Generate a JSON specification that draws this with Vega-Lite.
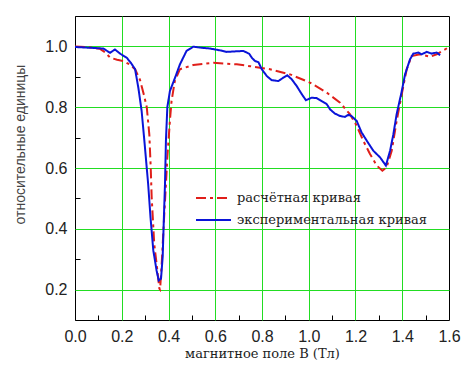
{
  "$schema": "https://vega.github.io/schema/vega-lite/v6.json",
  "width": 374,
  "height": 304,
  "autosize": "none",
  "padding": {"left": 75, "top": 16, "right": 23, "bottom": 56},
  "background": "white",
  "config": {
    "view": {"stroke": "black", "strokeWidth": 1},
    "axis": {"domain": false}
  },
  "data": {
    "values": [
      {"s": "расчётная кривая", "x": 0.0, "y": 1.0},
      {"s": "расчётная кривая", "x": 0.05, "y": 0.998},
      {"s": "расчётная кривая", "x": 0.107, "y": 0.992},
      {"s": "расчётная кривая", "x": 0.13, "y": 0.98},
      {"s": "расчётная кривая", "x": 0.15, "y": 0.963},
      {"s": "расчётная кривая", "x": 0.18, "y": 0.956},
      {"s": "расчётная кривая", "x": 0.207, "y": 0.952},
      {"s": "расчётная кривая", "x": 0.235, "y": 0.94},
      {"s": "расчётная кривая", "x": 0.257, "y": 0.925},
      {"s": "расчётная кривая", "x": 0.278, "y": 0.89},
      {"s": "расчётная кривая", "x": 0.295, "y": 0.84},
      {"s": "расчётная кривая", "x": 0.307, "y": 0.8},
      {"s": "расчётная кривая", "x": 0.318, "y": 0.71},
      {"s": "расчётная кривая", "x": 0.324, "y": 0.6},
      {"s": "расчётная кривая", "x": 0.328, "y": 0.504},
      {"s": "расчётная кривая", "x": 0.339, "y": 0.35},
      {"s": "расчётная кривая", "x": 0.349, "y": 0.285},
      {"s": "расчётная кривая", "x": 0.361, "y": 0.203},
      {"s": "расчётная кривая", "x": 0.364, "y": 0.2},
      {"s": "расчётная кривая", "x": 0.371, "y": 0.285},
      {"s": "расчётная кривая", "x": 0.38, "y": 0.42},
      {"s": "расчётная кривая", "x": 0.389, "y": 0.547},
      {"s": "расчётная кривая", "x": 0.395, "y": 0.635},
      {"s": "расчётная кривая", "x": 0.406, "y": 0.755},
      {"s": "расчётная кривая", "x": 0.413, "y": 0.82},
      {"s": "расчётная кривая", "x": 0.427, "y": 0.886},
      {"s": "расчётная кривая", "x": 0.449, "y": 0.925},
      {"s": "расчётная кривая", "x": 0.506, "y": 0.939},
      {"s": "расчётная кривая", "x": 0.592, "y": 0.946},
      {"s": "расчётная кривая", "x": 0.692, "y": 0.941},
      {"s": "расчётная кривая", "x": 0.749, "y": 0.935},
      {"s": "расчётная кривая", "x": 0.791, "y": 0.93},
      {"s": "расчётная кривая", "x": 0.834, "y": 0.925},
      {"s": "расчётная кривая", "x": 0.92, "y": 0.908},
      {"s": "расчётная кривая", "x": 1.005, "y": 0.881},
      {"s": "расчётная кривая", "x": 1.077, "y": 0.848},
      {"s": "расчётная кривая", "x": 1.134, "y": 0.815},
      {"s": "расчётная кривая", "x": 1.176, "y": 0.777},
      {"s": "расчётная кривая", "x": 1.205, "y": 0.739},
      {"s": "расчётная кривая", "x": 1.233, "y": 0.69},
      {"s": "расчётная кривая", "x": 1.262, "y": 0.646},
      {"s": "расчётная кривая", "x": 1.291, "y": 0.608},
      {"s": "расчётная кривая", "x": 1.315, "y": 0.591},
      {"s": "расчётная кривая", "x": 1.333, "y": 0.602},
      {"s": "расчётная кривая", "x": 1.355, "y": 0.657},
      {"s": "расчётная кривая", "x": 1.376, "y": 0.755},
      {"s": "расчётная кривая", "x": 1.398, "y": 0.843},
      {"s": "расчётная кривая", "x": 1.419, "y": 0.925},
      {"s": "расчётная кривая", "x": 1.44, "y": 0.968},
      {"s": "расчётная кривая", "x": 1.476, "y": 0.974},
      {"s": "расчётная кривая", "x": 1.519, "y": 0.966},
      {"s": "расчётная кривая", "x": 1.547, "y": 0.974},
      {"s": "расчётная кривая", "x": 1.576, "y": 0.987},
      {"s": "расчётная кривая", "x": 1.6, "y": 0.998},
      {"s": "экспериментальная кривая", "x": 0.0, "y": 0.998},
      {"s": "экспериментальная кривая", "x": 0.05, "y": 0.996},
      {"s": "экспериментальная кривая", "x": 0.078, "y": 0.995},
      {"s": "экспериментальная кривая", "x": 0.121, "y": 0.993},
      {"s": "экспериментальная кривая", "x": 0.15, "y": 0.979},
      {"s": "экспериментальная кривая", "x": 0.171, "y": 0.99},
      {"s": "экспериментальная кривая", "x": 0.193, "y": 0.976},
      {"s": "экспериментальная кривая", "x": 0.221, "y": 0.963},
      {"s": "экспериментальная кривая", "x": 0.24, "y": 0.945},
      {"s": "экспериментальная кривая", "x": 0.257, "y": 0.925},
      {"s": "экспериментальная кривая", "x": 0.271, "y": 0.864},
      {"s": "экспериментальная кривая", "x": 0.285, "y": 0.788},
      {"s": "экспериментальная кривая", "x": 0.298, "y": 0.679},
      {"s": "экспериментальная кривая", "x": 0.313, "y": 0.547},
      {"s": "экспериментальная кривая", "x": 0.323, "y": 0.438},
      {"s": "экспериментальная кривая", "x": 0.335, "y": 0.329},
      {"s": "экспериментальная кривая", "x": 0.349, "y": 0.263},
      {"s": "экспериментальная кривая", "x": 0.358, "y": 0.23},
      {"s": "экспериментальная кривая", "x": 0.368, "y": 0.236},
      {"s": "экспериментальная кривая", "x": 0.375, "y": 0.307},
      {"s": "экспериментальная кривая", "x": 0.38, "y": 0.43},
      {"s": "экспериментальная кривая", "x": 0.385, "y": 0.547},
      {"s": "экспериментальная кривая", "x": 0.389, "y": 0.69},
      {"s": "экспериментальная кривая", "x": 0.395, "y": 0.8},
      {"s": "экспериментальная кривая", "x": 0.406, "y": 0.853},
      {"s": "экспериментальная кривая", "x": 0.428, "y": 0.897},
      {"s": "экспериментальная кривая", "x": 0.449, "y": 0.941},
      {"s": "экспериментальная кривая", "x": 0.477, "y": 0.985},
      {"s": "экспериментальная кривая", "x": 0.506, "y": 0.999},
      {"s": "экспериментальная кривая", "x": 0.535, "y": 0.996},
      {"s": "экспериментальная кривая", "x": 0.578, "y": 0.993},
      {"s": "экспериментальная кривая", "x": 0.62, "y": 0.987},
      {"s": "экспериментальная кривая", "x": 0.649, "y": 0.982},
      {"s": "экспериментальная кривая", "x": 0.72, "y": 0.985},
      {"s": "экспериментальная кривая", "x": 0.745, "y": 0.976},
      {"s": "экспериментальная кривая", "x": 0.757, "y": 0.962},
      {"s": "экспериментальная кривая", "x": 0.77, "y": 0.952},
      {"s": "экспериментальная кривая", "x": 0.785, "y": 0.948},
      {"s": "экспериментальная кривая", "x": 0.799, "y": 0.925},
      {"s": "экспериментальная кривая", "x": 0.82, "y": 0.903},
      {"s": "экспериментальная кривая", "x": 0.841, "y": 0.889},
      {"s": "экспериментальная кривая", "x": 0.87, "y": 0.886},
      {"s": "экспериментальная кривая", "x": 0.891, "y": 0.897},
      {"s": "экспериментальная кривая", "x": 0.908, "y": 0.905},
      {"s": "экспериментальная кривая", "x": 0.927, "y": 0.892},
      {"s": "экспериментальная кривая", "x": 0.948, "y": 0.87},
      {"s": "экспериментальная кривая", "x": 0.97, "y": 0.843},
      {"s": "экспериментальная кривая", "x": 0.988, "y": 0.823},
      {"s": "экспериментальная кривая", "x": 1.012, "y": 0.831},
      {"s": "экспериментальная кривая", "x": 1.034, "y": 0.83},
      {"s": "экспериментальная кривая", "x": 1.055, "y": 0.82},
      {"s": "экспериментальная кривая", "x": 1.077, "y": 0.81},
      {"s": "экспериментальная кривая", "x": 1.091, "y": 0.793},
      {"s": "экспериментальная кривая", "x": 1.112, "y": 0.779},
      {"s": "экспериментальная кривая", "x": 1.134, "y": 0.771},
      {"s": "экспериментальная кривая", "x": 1.155, "y": 0.768},
      {"s": "экспериментальная кривая", "x": 1.169, "y": 0.775},
      {"s": "экспериментальная кривая", "x": 1.183, "y": 0.771},
      {"s": "экспериментальная кривая", "x": 1.205, "y": 0.755},
      {"s": "экспериментальная кривая", "x": 1.226, "y": 0.717},
      {"s": "экспериментальная кривая", "x": 1.248, "y": 0.69},
      {"s": "экспериментальная кривая", "x": 1.276, "y": 0.657},
      {"s": "экспериментальная кривая", "x": 1.305, "y": 0.635},
      {"s": "экспериментальная кривая", "x": 1.33, "y": 0.608},
      {"s": "экспериментальная кривая", "x": 1.348, "y": 0.657},
      {"s": "экспериментальная кривая", "x": 1.362, "y": 0.711},
      {"s": "экспериментальная кривая", "x": 1.376, "y": 0.777},
      {"s": "экспериментальная кривая", "x": 1.398, "y": 0.853},
      {"s": "экспериментальная кривая", "x": 1.412, "y": 0.908},
      {"s": "экспериментальная кривая", "x": 1.433, "y": 0.957},
      {"s": "экспериментальная кривая", "x": 1.447, "y": 0.976},
      {"s": "экспериментальная кривая", "x": 1.469, "y": 0.98},
      {"s": "экспериментальная кривая", "x": 1.483, "y": 0.974},
      {"s": "экспериментальная кривая", "x": 1.505, "y": 0.982},
      {"s": "экспериментальная кривая", "x": 1.526, "y": 0.976},
      {"s": "экспериментальная кривая", "x": 1.547, "y": 0.98},
      {"s": "экспериментальная кривая", "x": 1.562, "y": 0.971}
    ]
  },
  "encoding": {
    "x": {
      "field": "x", "type": "quantitative",
      "scale": {"domain": [0, 1.6], "nice": false, "zero": false},
      "axis": {
        "title": "магнитное поле В (Тл)",
        "titleFont": "DejaVu Serif", "titleFontSize": 13, "titleFontWeight": "normal", "titleColor": "#222",
        "titleX": 187, "titleY": 33, "titleBaseline": "middle",
        "values": [0, 0.1, 0.2, 0.3, 0.4, 0.5, 0.6, 0.7, 0.8, 0.9, 1.0, 1.1, 1.2, 1.3, 1.4, 1.5, 1.6],
        "labelExpr": "round(datum.value*10) % 2 == 0 ? format(datum.value, '.1f') : ''",
        "labelFont": "Liberation Sans", "labelFontSize": 16, "labelColor": "#222",
        "labelFlush": false, "labelOverlap": false, "labelPadding": 13,
        "tickSize": -5, "tickColor": "black",
        "tickOpacity": {"condition": {"test": "round(datum.value*10) % 2 == 0", "value": 0}, "value": 1},
        "grid": true, "gridColor": "#22dd22", "gridWidth": 1,
        "gridOpacity": {"condition": {"test": "round(datum.value*10) % 2 == 1 || datum.value < 0.01 || datum.value > 1.59", "value": 0}, "value": 1}
      }
    },
    "y": {
      "field": "y", "type": "quantitative",
      "scale": {"domain": [0.1, 1.1], "nice": false, "zero": false},
      "axis": {
        "title": "относительные единицы",
        "titleFont": "Liberation Sans", "titleFontSize": 14, "titleFontWeight": "normal", "titleColor": "#444",
        "titleX": -55, "titleY": 128, "titleBaseline": "middle", "titleAngle": 270,
        "values": [0.1, 0.2, 0.3, 0.4, 0.5, 0.6, 0.7, 0.8, 0.9, 1.0, 1.1],
        "labelExpr": "round(datum.value*10) % 2 == 0 ? format(datum.value, '.1f') : ''",
        "labelFont": "Liberation Sans", "labelFontSize": 16, "labelColor": "#222",
        "labelFlush": false, "labelOverlap": false, "labelPadding": 13,
        "tickSize": -5, "tickColor": "black",
        "tickOpacity": {"condition": {"test": "round(datum.value*10) % 2 == 0", "value": 0}, "value": 1},
        "grid": true, "gridColor": "#22dd22", "gridWidth": 1,
        "gridOpacity": {"condition": {"test": "round(datum.value*10) % 2 == 1", "value": 0}, "value": 1}
      }
    },
    "color": {
      "field": "s", "type": "nominal",
      "scale": {"domain": ["расчётная кривая", "экспериментальная кривая"], "range": ["#e01f1a", "#0a14d8"]},
      "legend": {
        "title": null, "orient": "none", "legendX": 120, "legendY": 171,
        "symbolType": "stroke", "symbolSize": 1225, "symbolStrokeWidth": 2,
        "labelFont": "DejaVu Serif", "labelFontSize": 13, "labelColor": "#222", "labelOffset": 5, "labelLimit": 0,
        "clipHeight": 22, "rowPadding": 0, "padding": 0
      }
    },
    "strokeDash": {
      "field": "s", "type": "nominal",
      "scale": {"domain": ["расчётная кривая", "экспериментальная кривая"], "range": [[10, 4, 3, 4], [1, 0]]},
      "legend": {
        "title": null, "orient": "none", "legendX": 120, "legendY": 171,
        "symbolType": "stroke", "symbolSize": 1225, "symbolStrokeWidth": 2,
        "labelFont": "DejaVu Serif", "labelFontSize": 13, "labelColor": "#222", "labelOffset": 5, "labelLimit": 0,
        "clipHeight": 22, "rowPadding": 0, "padding": 0
      }
    }
  },
  "layer": [
    {
      "transform": [{"filter": "datum.s == 'расчётная кривая'"}],
      "mark": {"type": "line", "strokeWidth": 2}
    },
    {
      "transform": [{"filter": "datum.s == 'экспериментальная кривая'"}],
      "mark": {"type": "line", "strokeWidth": 2}
    }
  ]
}
